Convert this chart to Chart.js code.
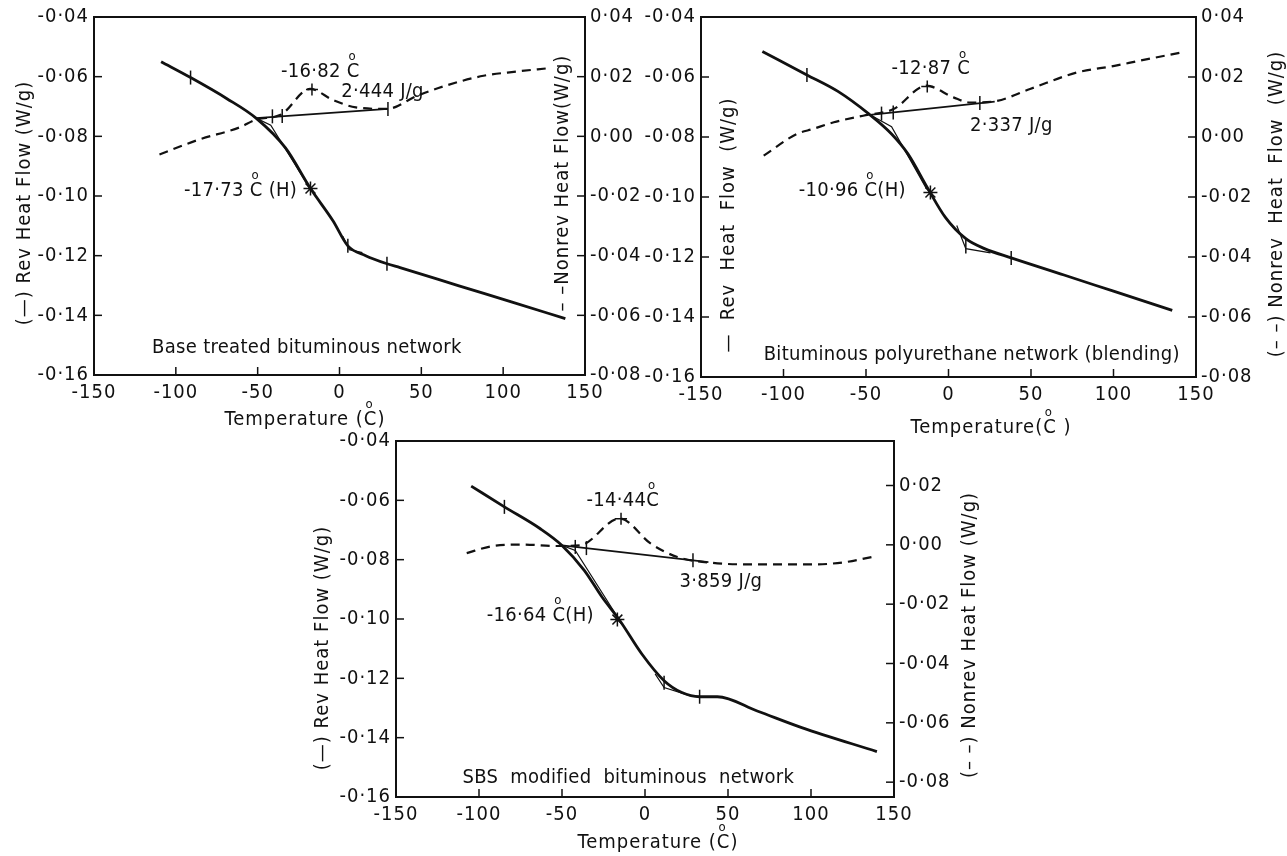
<!DOCTYPE html>
<html>
<head>
<meta charset="utf-8">
<script src="https://cdn.jsdelivr.net/npm/chart.js@4.4.1/dist/chart.umd.min.js"></script>
<style>
    html, body { margin: 0; padding: 0; background: #fff; }
    body { width: 1287px; height: 856px; position: relative; overflow: hidden; }
    canvas { position: absolute; }
</style>
</head>
<body>
<canvas id="panelA" width="650" height="440" style="left:0px;top:0px"></canvas>
<canvas id="panelB" width="647" height="440" style="left:640px;top:0px"></canvas>
<canvas id="panelC" width="720" height="436" style="left:290px;top:420px"></canvas>
<script>
// axis ticks
const tempTicks = [-150, -100, -50, 0, 50, 100, 150];
const revTicks = [-0.16, -0.14, -0.12, -0.10, -0.08, -0.06, -0.04];
const nonrevTicks = [-0.08, -0.06, -0.04, -0.02, 0, 0.02, 0.04];
const nonrevTicksSbs = [-0.08, -0.06, -0.04, -0.02, 0, 0.02];

// base treated bituminous network
const baseRevT = [-109, -91, -69, -51, -33, -17.7, -4, 5.1, 16, 29, 37, 73, 105, 138];
const baseRev = [-0.055, -0.0603, -0.0673, -0.0739, -0.0839, -0.0975, -0.1083, -0.1167, -0.12, -0.1227, -0.124, -0.1301, -0.1355, -0.1411];
const baseNonT = [-110, -86, -61, -51, -36, -18, -4, 10, 29, 47, 65, 88, 108, 127];
const baseNon = [-0.0061, -0.0011, 0.003, 0.0056, 0.0072, 0.0159, 0.0122, 0.0097, 0.0092, 0.0135, 0.017, 0.0203, 0.0217, 0.0228];
const baseLineT = [-51, 29.6];
const baseLine = [-0.0739, -0.0708];
const baseTanT = [-51, -42, -18.4];
const baseTan = [-0.0739, -0.0763, -0.0972];
const baseKinkT = [2, 6, 14];
const baseKink = [-0.1135, -0.118, -0.119];
const baseMarkT = [-91, 5.1, 29, -41, -35, 29.6];
const baseMark = [-0.0603, -0.1167, -0.1227, -0.0733, -0.0732, -0.0708];
const basePeakT = [-16.82];
const basePeak = [0.0157];
const baseStarT = [-17.73];
const baseStar = [-0.0975];

// bituminous polyurethane network (blending)
const puRevT = [-112.8, -85.8, -67, -48.3, -34.5, -24.5, -12.7, -2, 10.5, 21.8, 38, 70, 100, 135.6];
const puRev = [-0.0515, -0.0593, -0.0648, -0.0723, -0.079, -0.0857, -0.097, -0.1067, -0.1139, -0.1172, -0.1203, -0.126, -0.1314, -0.1378];
const puNonT = [-112, -92, -82, -69.5, -51.7, -33.3, -13.5, 3, 13, 27, 49.4, 77.7, 100.6, 115.6, 140.6];
const puNon = [-0.0062, 0.001, 0.0027, 0.0049, 0.0071, 0.0093, 0.0171, 0.0132, 0.0115, 0.0118, 0.016, 0.0215, 0.0237, 0.0254, 0.0281];
const puLineT = [-47.6, 28];
const puLine = [-0.0726, -0.0682];
const puTanT = [-47.6, -34.5, -13.3];
const puTan = [-0.0726, -0.0766, -0.0973];
const puKinkT = [5, 10.5, 25.5];
const puKink = [-0.1095, -0.1172, -0.1186];
const puMarkT = [-85.8, 10.5, 38, -40.6, -33.5, 19];
const puMark = [-0.0593, -0.1165, -0.1203, -0.0722, -0.0718, -0.0687];
const puPeakT = [-12.87];
const puPeak = [0.0168];
const puStarT = [-10.96];
const puStar = [-0.0985];

// SBS modified bituminous network
const sbsRevT = [-104.7, -84.7, -63.3, -50, -36.6, -25.9, -15.2, -1.9, 11.5, 22.2, 32.9, 43.6, 67.6, 94.4, 139.7];
const sbsRev = [-0.0552, -0.0622, -0.0695, -0.0752, -0.0836, -0.0926, -0.1005, -0.1118, -0.1208, -0.1248, -0.1262, -0.1262, -0.131, -0.1366, -0.1447];
const sbsNonT = [-107.4, -92.7, -74, -52.6, -39.3, -15.2, 3.5, 19.5, 40.9, 67.6, 102.3, 121, 138.4];
const sbsNon = [-0.0028, -0.0005, 0.0001, -0.0004, -0.0002, 0.0089, 0.0004, -0.0041, -0.0061, -0.0066, -0.0066, -0.0058, -0.0039];
const sbsLineT = [-50, 38.2];
const sbsLine = [-0.0752, -0.0808];
const sbsTanT = [-50, -42, -15.2];
const sbsTan = [-0.0752, -0.0769, -0.1005];
const sbsKinkT = [6.1, 11.5, 27.5];
const sbsKink = [-0.1185, -0.1231, -0.1259];
const sbsMarkT = [-84.7, 11.5, 32.9, -42, -35.3, 28.9];
const sbsMark = [-0.0622, -0.1215, -0.1262, -0.0757, -0.0761, -0.0802];
const sbsPeakT = [-14.44];
const sbsPeak = [0.0088];
const sbsStarT = [-16.64];
const sbsStar = [-0.1002];

// annotations (temperature, rev heat flow)
const baseNotes = [
    { text: '-16·82 °C', t: -35.7, v: -0.0583 },
    { text: '2·444 J/g', t: 1, v: -0.065 },
    { text: '-17·73 °C (H)', t: -95, v: -0.0983 },
    { text: 'Base treated bituminous network', t: -114.5, v: -0.151 }
];
const puNotes = [
    { text: '-12·87 °C', t: -34.6, v: -0.0574 },
    { text: '2·337 J/g', t: 13, v: -0.0762 },
    { text: '-10·96 °C(H)', t: -90.8, v: -0.0978 },
    { text: 'Bituminous polyurethane network (blending)', t: -112, v: -0.1527 }
];
const sbsNotes = [
    { text: '-14·44°C', t: -35.3, v: -0.06 },
    { text: '3·859 J/g', t: 20.8, v: -0.0876 },
    { text: '-16·64 °C(H)', t: -95.4, v: -0.0988 },
    { text: 'SBS  modified  bituminous  network', t: -110, v: -0.1535 }
];

const FONT = "'DejaVu Sans Condensed', 'Liberation Sans Narrow', 'DejaVu Sans', sans-serif";
const INK = '#111';

function fmt(v) {
    let s = Math.abs(v).toFixed(2).replace('.', '·');
    return (v < -1e-9 ? '-' : '') + s;
}

function pts(xs, ys) {
    return xs.map((x, i) => ({ x: x, y: ys[i] }));
}

// text with the degree ring drawn small above the following letter
function degText(ctx, text, x, y) {
    let parts = text.split('°');
    let cx = x;
    parts.forEach((part, i) => {
        if (i > 0 && part.length) {
            let cw = ctx.measureText(part[0]).width;
            let f = ctx.font;
            ctx.font = '13px ' + FONT;
            let ow = ctx.measureText('o').width;
            ctx.fillText('o', cx + (cw - ow) / 2 - 1, y - 15);
            ctx.font = f;
        }
        ctx.fillText(part, cx, y);
        cx += ctx.measureText(part).width;
    });
}

const framePlugin = {
    id: 'frame',
    beforeDraw(chart) {
        chart.ctx.letterSpacing = '1px';
    },
    afterDatasetsDraw(chart, args, opts) {
        const ctx = chart.ctx;
        const a = chart.chartArea;
        ctx.save();
        ctx.strokeStyle = INK;
        ctx.lineWidth = 2;
        ctx.strokeRect(a.left, a.top, a.right - a.left, a.bottom - a.top);

        // inward tick marks
        ctx.lineWidth = 1.5;
        ['y', 'y2'].forEach(id => {
            let s = chart.scales[id];
            let x0 = id == 'y' ? a.left : a.right;
            let dir = id == 'y' ? 1 : -1;
            s.ticks.forEach(t => {
                let py = s.getPixelForValue(t.value);
                ctx.beginPath();
                ctx.moveTo(x0, py);
                ctx.lineTo(x0 + dir * 8, py);
                ctx.stroke();
            });
        });
        let sx = chart.scales.x;
        sx.ticks.forEach(t => {
            let px = sx.getPixelForValue(t.value);
            ctx.beginPath();
            ctx.moveTo(px, a.bottom);
            ctx.lineTo(px, a.bottom - 8);
            ctx.stroke();
        });

        ctx.fillStyle = INK;
        ctx.textAlign = 'left';
        ctx.textBaseline = 'middle';
        ctx.font = '20px ' + FONT;
        ctx.letterSpacing = '0.3px';
        let sy = chart.scales.y;
        opts.notes.forEach(n => {
            degText(ctx, n.text, sx.getPixelForValue(n.t), sy.getPixelForValue(n.v));
        });

        ctx.letterSpacing = '1px';
        opts.titles.forEach(tt => {
            let w = ctx.measureText(tt.text.replace('°', '')).width;
            ctx.save();
            ctx.translate(tt.x, tt.y);
            ctx.rotate(tt.rot * Math.PI / 180);
            degText(ctx, tt.text, -w / 2, 0);
            ctx.restore();
        });
        ctx.restore();
    }
};

function buildPanel(id, p) {
    const tickFont = { family: FONT, size: 20 };
    new Chart(document.getElementById(id), {
        type: 'line',
        data: {
            datasets: [
                { data: pts(p.revT, p.rev), yAxisID: 'y', borderColor: INK, borderWidth: 2.8, pointRadius: 0, cubicInterpolationMode: 'monotone' },
                { data: pts(p.nonT, p.non), yAxisID: 'y2', borderColor: INK, borderWidth: 2.2, borderDash: [9, 6], pointRadius: 0, cubicInterpolationMode: 'monotone' },
                { data: pts(p.lineT, p.line), yAxisID: 'y', borderColor: INK, borderWidth: 1.7, pointRadius: 0, tension: 0 },
                { data: pts(p.tanT, p.tan), yAxisID: 'y', borderColor: INK, borderWidth: 1.2, pointRadius: 0, tension: 0 },
                { data: pts(p.kinkT, p.kink), yAxisID: 'y', borderColor: INK, borderWidth: 1.2, pointRadius: 0, tension: 0 },
                { data: pts(p.markT, p.mark), yAxisID: 'y', showLine: false, pointStyle: 'line', pointRotation: 90, pointRadius: 7, pointBorderWidth: 1.5, pointBorderColor: INK },
                { data: pts(p.peakT, p.peak), yAxisID: 'y2', showLine: false, pointStyle: 'cross', pointRadius: 6, pointBorderWidth: 1.5, pointBorderColor: INK },
                { data: pts(p.starT, p.star), yAxisID: 'y', showLine: false, pointStyle: 'star', pointRadius: 7, pointBorderWidth: 1.5, pointBorderColor: INK }
            ]
        },
        options: {
            responsive: false,
            animation: false,
            events: [],
            layout: { padding: p.pad },
            plugins: {
                legend: { display: false },
                tooltip: { enabled: false },
                frame: { notes: p.notes, titles: p.titles }
            },
            scales: {
                x: {
                    type: 'linear',
                    min: -150,
                    max: 150,
                    afterBuildTicks: s => { s.ticks = tempTicks.map(v => ({ value: v })); },
                    afterFit: s => { s.height = 35; },
                    grid: { display: false, drawTicks: false },
                    border: { display: false },
                    ticks: { color: INK, font: tickFont, padding: 6, maxRotation: 0, autoSkip: false, callback: v => String(v) }
                },
                y: {
                    position: 'left',
                    min: -0.16,
                    max: -0.04,
                    afterBuildTicks: s => { s.ticks = revTicks.map(v => ({ value: v })); },
                    afterFit: s => { s.width = p.yW; },
                    grid: { display: false, drawTicks: false },
                    border: { display: false },
                    ticks: { color: INK, font: tickFont, padding: 5, autoSkip: false, callback: v => fmt(v) }
                },
                y2: {
                    position: 'right',
                    min: p.nonMin,
                    max: p.nonMax,
                    afterBuildTicks: s => { s.ticks = p.nonTicks.map(v => ({ value: v })); },
                    afterFit: s => { s.width = p.y2W; },
                    grid: { display: false, drawTicks: false },
                    border: { display: false },
                    ticks: { color: INK, font: tickFont, padding: 5, autoSkip: false, callback: v => fmt(v) }
                }
            }
        },
        plugins: [framePlugin]
    });
}

buildPanel('panelA', {
    revT: baseRevT, rev: baseRev, nonT: baseNonT, non: baseNon,
    lineT: baseLineT, line: baseLine, tanT: baseTanT, tan: baseTan,
    kinkT: baseKinkT, kink: baseKink, markT: baseMarkT, mark: baseMark,
    peakT: basePeakT, peak: basePeak, starT: baseStarT, star: baseStar,
    notes: baseNotes, nonTicks: nonrevTicks, nonMin: -0.08, nonMax: 0.04,
    pad: { left: 34, right: 5, top: 15, bottom: 30 }, yW: 60, y2W: 60,
    titles: [
        { text: '(—) Rev Heat Flow (W/g)', x: 25, y: 203, rot: -90 },
        { text: '– –Nonrev Heat Flow(W/g)', x: 563, y: 183, rot: -90 },
        { text: 'Temperature (°C)', x: 305, y: 420, rot: 0 }
    ]
});

buildPanel('panelB', {
    revT: puRevT, rev: puRev, nonT: puNonT, non: puNon,
    lineT: puLineT, line: puLine, tanT: puTanT, tan: puTan,
    kinkT: puKinkT, kink: puKink, markT: puMarkT, mark: puMark,
    peakT: puPeakT, peak: puPeak, starT: puStarT, star: puStar,
    notes: puNotes, nonTicks: nonrevTicks, nonMin: -0.08, nonMax: 0.04,
    pad: { left: 3, right: 36, top: 16, bottom: 28 }, yW: 58, y2W: 55,
    titles: [
        { text: '—  Rev  Heat  Flow  (W/g)', x: 89, y: 225, rot: -90 },
        { text: '(– –) Nonrev  Heat  Flow  (W/g)', x: 637, y: 204, rot: -90 },
        { text: 'Temperature(°C )', x: 351, y: 428, rot: 0 }
    ]
});

buildPanel('panelC', {
    revT: sbsRevT, rev: sbsRev, nonT: sbsNonT, non: sbsNon,
    lineT: sbsLineT, line: sbsLine, tanT: sbsTanT, tan: sbsTan,
    kinkT: sbsKinkT, kink: sbsKink, markT: sbsMarkT, mark: sbsMark,
    peakT: sbsPeakT, peak: sbsPeak, starT: sbsStarT, star: sbsStar,
    notes: sbsNotes, nonTicks: nonrevTicksSbs, nonMin: -0.085, nonMax: 0.035,
    pad: { left: 46, right: 56, top: 21, bottom: 24 }, yW: 60, y2W: 60,
    titles: [
        { text: '(—) Rev Heat Flow (W/g)', x: 33, y: 228, rot: -90 },
        { text: '(– –) Nonrev Heat Flow (W/g)', x: 680, y: 215, rot: -90 },
        { text: 'Temperature (°C)', x: 368, y: 423, rot: 0 }
    ]
});
</script>
</body>
</html>
